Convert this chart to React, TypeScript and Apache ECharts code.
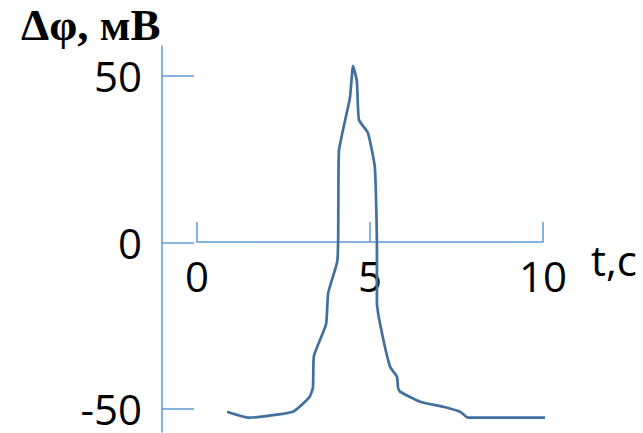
import React, { useEffect, useRef } from "react";
import * as echarts from "echarts";

const timeValues = [0.87, 1.5, 2.77, 3.24, 3.35, 3.38, 3.73, 3.79, 4.05, 4.08, 4.1, 4.22, 4.42, 4.51, 4.62, 4.68, 4.94, 5.14, 5.2, 5.2, 5.32, 5.58, 5.78, 5.81, 5.87, 6.45, 7.11, 7.6, 7.83, 10.38];
const potentialValues = [-50.9, -52.7, -50.9, -46.7, -43.7, -34.1, -24.6, -15.3, -6.0, 0.9, 27.2, 33.8, 43.4, 53.0, 48.5, 36.8, 32.9, 22.5, -1.2, -18.0, -26.0, -37.4, -40.4, -43.7, -44.9, -47.9, -49.4, -50.9, -52.7, -52.7];
const yTickValues = [-50, 0, 50];
const xTickInterval = 5;
const titleText = "Δφ, мВ";
const xAxisName = "t,c";

export default function App() {
  const ref = useRef<HTMLDivElement>(null);
  useEffect(() => {
    document.body.style.margin = "0";
    const chart = echarts.init(ref.current!, undefined, { renderer: "svg" });
    const axisColor = "#5B9BD5";
    chart.setOption({
      animation: false,
      backgroundColor: "#ffffff",
      grid: { left: 197, right: 100, top: 46, bottom: 1, containLabel: false, outerBoundsMode: "none" },
      title: {
        text: titleText,
        left: 16,
        top: -2,
        textStyle: { fontFamily: "Liberation Serif", fontWeight: "bold", fontSize: 45, lineHeight: 44, color: "#000" },
      },
      xAxis: {
        type: "value",
        min: 0,
        max: 10,
        interval: xTickInterval,
        position: "bottom",
        offset: -190,
        axisLine: { onZero: false, lineStyle: { color: axisColor, width: 1.5 } },
        axisTick: { show: true, inside: true, length: 20, lineStyle: { color: axisColor, width: 1.5 } },
        axisLabel: { margin: 16, fontFamily: "Open Sans", fontSize: 42, lineHeight: 34, color: "#000", showMinLabel: true, showMaxLabel: true },
        splitLine: { show: false },
        name: xAxisName,
        nameLocation: "end",
        nameGap: 48,
        nameTextStyle: { fontFamily: "Open Sans", fontSize: 42, lineHeight: 34, color: "#000", verticalAlign: "top" },
      },
      yAxis: {
        type: "value",
        min: -57,
        max: 59,
        position: "left",
        offset: 35,
        axisLine: { show: true, onZero: false, lineStyle: { color: axisColor, width: 1.5 } },
        axisTick: { show: true, inside: true, length: 32, customValues: yTickValues, lineStyle: { color: axisColor, width: 1.5 } },
        axisLabel: { margin: 20, customValues: yTickValues, fontFamily: "Open Sans", fontSize: 42, lineHeight: 32, color: "#000" },
        splitLine: { show: false },
      },
      series: [
        {
          type: "line",
          data: timeValues.map((t, i) => [t, potentialValues[i]]),
          showSymbol: false,
          clip: false,
          smooth: 0.15,
          lineStyle: { color: "#41709E", width: 2.7 },
        },
      ],
    });
    return () => chart.dispose();
  }, []);
  return <div ref={ref} style={{ width: 643, height: 433 }} />;
}
